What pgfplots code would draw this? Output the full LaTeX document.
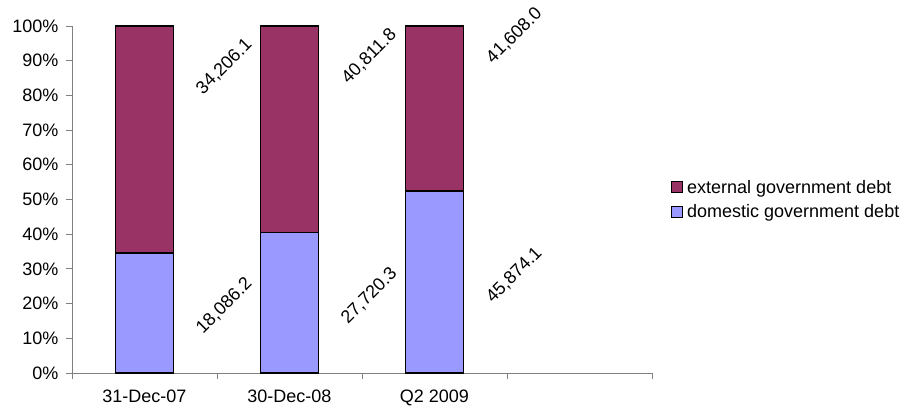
\documentclass[border=0pt]{standalone}
\usepackage{pgfplots}
\pgfplotsset{compat=1.18}
\usepackage{pgfplotstable}
\usepackage{fontspec}
\setmainfont{Liberation Sans}

\definecolor{extdebt}{HTML}{993366}
\definecolor{domdebt}{HTML}{9999FF}
\definecolor{axisgray}{HTML}{808080}

% government debt, by origin
\pgfplotstableread{
x dom ext
0 18086.2 34206.1
1 27720.3 40811.8
2 45874.1 41608.0
}\debt

\pgfplotsset{
  debtframe/.style={
    scale only axis, width=580bp, height=347bp,
    xmin=-0.5, xmax=3.5, ymin=0, ymax=100,
    enlargelimits=false, clip=false,
  }
}

\begin{document}
\begin{tikzpicture}[font=\fontsize{18bp}{21.6bp}\selectfont]
\begin{axis}[debtframe,
  ybar stacked, bar width=0.4,
  axis x line=bottom, axis y line=left,
  axis line style={-, draw=axisgray, line width=0.8bp},
  tick style={draw=axisgray, line width=0.8bp},
  tick align=outside, major tick length=6bp,
  xtick={-0.5,0.5,1.5,2.5,3.5}, xticklabels={},
  extra x ticks={0,1,2},
  extra x tick labels={31-Dec-07,30-Dec-08,Q2 2009},
  extra x tick style={major tick length=0pt,
    xticklabel style={yshift=-13bp}},
  ytick={0,10,20,30,40,50,60,70,80,90,100},
  yticklabels={0\%,10\%,20\%,30\%,40\%,50\%,60\%,70\%,80\%,90\%,100\%},
  yticklabel style={xshift=-4bp},
  reverse legend,
  legend cell align=left,
  legend style={at={(1,0.5)}, anchor=west, xshift=16bp, draw=none, fill=none,
    row sep=6bp, nodes={inner xsep=4bp}},
  legend image code/.code={
    \draw[#1, draw=black, line width=1bp] (0bp,-5.5bp) rectangle (11bp,5.5bp);},
]
\addplot[fill=domdebt, draw=black, line width=1.1bp]
  table[x=x, y expr={100*\thisrow{dom}/(\thisrow{dom}+\thisrow{ext})}] {\debt};
\addlegendentry{domestic government debt}
\addplot[fill=extdebt, draw=black, line width=1.1bp]
  table[x=x, y expr={100*\thisrow{ext}/(\thisrow{dom}+\thisrow{ext})}] {\debt};
\addlegendentry{external government debt}
\end{axis}

% value labels beside the bars
\begin{axis}[debtframe, hide axis,
  nodes near coords, point meta=explicit,
  nodes near coords style={rotate=45, anchor=center, inner sep=0pt},
  /pgf/number format/fixed, /pgf/number format/fixed zerofill,
  /pgf/number format/precision=1, /pgf/number format/1000 sep={,},
  /pgf/number format/assume math mode=true,
]
\addplot[draw=none, mark=none]
  table[x expr=\thisrow{x}+0.55,
        y expr={50*\thisrow{dom}/(\thisrow{dom}+\thisrow{ext})+2},
        meta=dom] {\debt};
\addplot[draw=none, mark=none]
  table[x expr=\thisrow{x}+0.55,
        y expr={100*\thisrow{dom}/(\thisrow{dom}+\thisrow{ext})+50*\thisrow{ext}/(\thisrow{dom}+\thisrow{ext})+21},
        meta=ext] {\debt};
\end{axis}
\pgfresetboundingbox
\path (-72bp,-41bp) rectangle (839bp,373bp);
\end{tikzpicture}
\end{document}
